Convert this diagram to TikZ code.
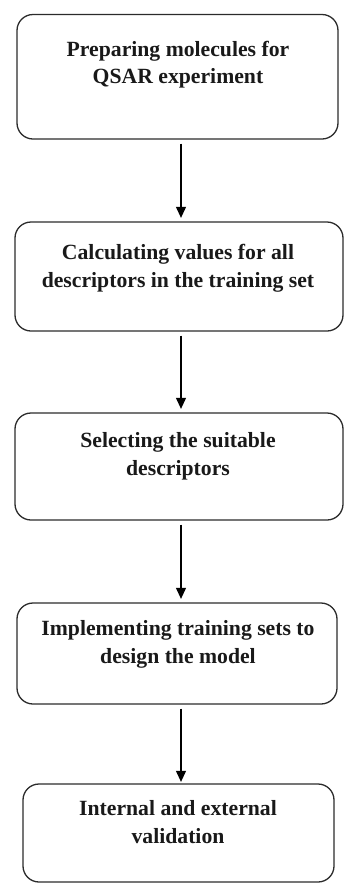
\documentclass[tikz,border=0pt]{standalone}
\usepackage{fontspec}
\setmainfont{Liberation Serif}
\usetikzlibrary{arrows.meta}
\definecolor{edge}{HTML}{2B2B2B}
\tikzset{
  stepbox/.style={draw=edge, line width=1.3pt, rounded corners=16pt, minimum width=#1, inner sep=0pt},
  steptext/.style={align=center, anchor=base, inner sep=0pt, font=\bfseries\fontsize{21.7}{27.5}\selectfont, text=black!90},
  flow/.style={draw=black, line width=1.1pt, -{Triangle[length=11pt,width=10pt]}, shorten <=4pt, shorten >=3.5pt}
}
\begin{document}
\begin{tikzpicture}[x=1pt,y=-1pt]
\useasboundingbox (0,0) rectangle (347,884);
% boxes
\node[stepbox=321pt, minimum height=124.5pt] (b1) at (177.5,76.75) {};
\node[stepbox=328pt, minimum height=109pt] (b2) at (179,276.5) {};
\node[stepbox=328pt, minimum height=107pt] (b3) at (179,466.5) {};
\node[stepbox=320pt, minimum height=101pt] (b4) at (177,653.5) {};
\node[stepbox=311pt, minimum height=98pt] (b5) at (178.5,833) {};
% texts (anchored at the baseline of the last line)
\node[steptext] (t1) at (178,83.5) {Preparing molecules for\\QSAR experiment};
\node[steptext] (t2) at (178,287) {Calculating values for all\\descriptors in the training set};
\node[steptext] (t3) at (178,475) {Selecting the suitable\\descriptors};
\node[steptext] (t4) at (178,663) {Implementing training sets to\\design the model};
\node[steptext] (t5) at (178,843) {Internal and external\\validation};
% arrows
\coordinate (ax) at (181,0);
\draw[flow] (b1.south -| ax) -- (b2.north -| ax);
\draw[flow] (b2.south -| ax) -- (b3.north -| ax);
\draw[flow] (b3.south -| ax) -- (b4.north -| ax);
\draw[flow, shorten >=1.5pt] (b4.south -| ax) -- (b5.north -| ax);
\end{tikzpicture}
\end{document}
